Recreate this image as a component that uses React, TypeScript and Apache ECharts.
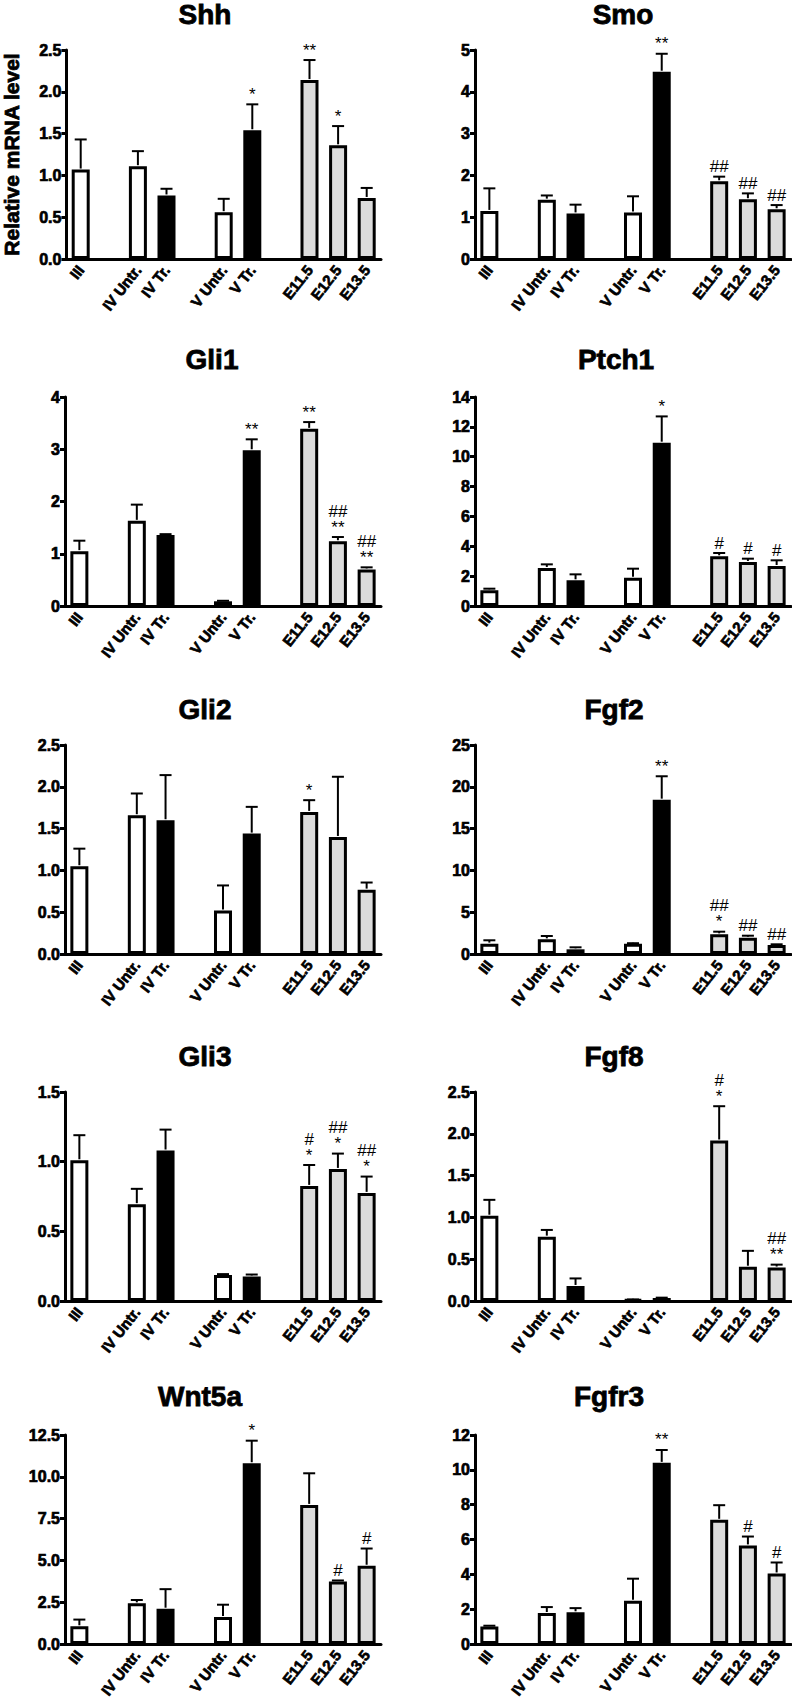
import React, { useEffect, useRef } from "react";
import * as echarts from "echarts";

const categories = ["III", "", "IV Untr.", "IV Tr.", "", "V Untr.", "V Tr.", "", "E11.5", "E12.5", "E13.5"];
const barKinds = ["white", "", "white", "black", "", "white", "black", "", "gray", "gray", "gray"];

const titles = ["Shh", "Smo", "Gli1", "Ptch1", "Gli2", "Fgf2", "Gli3", "Fgf8", "Wnt5a", "Fgfr3"];

const shhMean = [1.07, null, 1.11, 0.76, null, 0.56, 1.54, null, 2.14, 1.36, 0.73];
const shhErr = [0.36, null, 0.18, 0.08, null, 0.16, 0.31, null, 0.24, 0.23, 0.12];
const shhSig = ["", "", "", "", "", "", "*", "", "**", "*", ""];

const smoMean = [1.15, null, 1.42, 1.09, null, 1.11, 4.48, null, 1.86, 1.43, 1.19];
const smoErr = [0.54, null, 0.1, 0.21, null, 0.39, 0.43, null, 0.11, 0.14, 0.1];
const smoSig = ["", "", "", "", "", "", "**", "", "##", "##", "##"];

const gli1Mean = [1.05, null, 1.63, 1.36, null, 0.09, 2.98, null, 3.39, 1.24, 0.7];
const gli1Err = [0.2, null, 0.31, 0.015, null, 0.01, 0.21, null, 0.13, 0.08, 0.04];
const gli1Sig = ["", "", "", "", "", "", "**", "", "**", "##\n**", "##\n**"];

const ptch1Mean = [1.05, null, 2.55, 1.72, null, 1.9, 10.94, null, 3.33, 2.95, 2.68];
const ptch1Err = [0.11, null, 0.24, 0.4, null, 0.6, 1.76, null, 0.22, 0.22, 0.38];
const ptch1Sig = ["", "", "", "", "", "", "*", "", "#", "#", "#"];

const gli2Mean = [1.05, null, 1.66, 1.6, null, 0.52, 1.44, null, 1.7, 1.4, 0.77];
const gli2Err = [0.21, null, 0.26, 0.54, null, 0.3, 0.32, null, 0.14, 0.72, 0.085];
const gli2Sig = ["", "", "", "", "", "", "", "", "*", "", ""];

const fgf2Mean = [1.24, null, 1.75, 0.56, null, 1.24, 18.46, null, 2.35, 1.95, 1.08];
const fgf2Err = [0.4, null, 0.4, 0.24, null, 0.05, 2.8, null, 0.32, 0.24, 0.08];
const fgf2Sig = ["", "", "", "", "", "", "**", "", "##\n*", "##", "##"];

const gli3Mean = [1.01, null, 0.695, 1.08, null, 0.186, 0.176, null, 0.826, 0.948, 0.776];
const gli3Err = [0.18, null, 0.11, 0.15, null, 0.007, 0.014, null, 0.15, 0.11, 0.117];
const gli3Sig = ["", "", "", "", "", "", "", "", "#\n*", "##\n*", "##\n*"];

const fgf8Mean = [1.02, null, 0.77, 0.18, null, 0.016, 0.036, null, 1.92, 0.41, 0.4];
const fgf8Err = [0.19, null, 0.08, 0.09, null, 0.002, 0.004, null, 0.41, 0.19, 0.035];
const fgf8Sig = ["", "", "", "", "", "", "", "", "#\n*", "", "##\n**"];

const wnt5aMean = [1.06, null, 2.43, 2.11, null, 1.61, 10.81, null, 8.32, 3.74, 4.68];
const wnt5aErr = [0.4, null, 0.2, 1.17, null, 0.74, 1.35, null, 1.89, 0.06, 1.03];
const wnt5aSig = ["", "", "", "", "", "", "*", "", "", "#", "#"];

const fgfr3Mean = [1.01, null, 1.78, 1.82, null, 2.48, 10.4, null, 7.13, 5.66, 4.05];
const fgfr3Err = [0.04, null, 0.34, 0.24, null, 1.27, 0.74, null, 0.84, 0.51, 0.63];
const fgfr3Sig = ["", "", "", "", "", "", "**", "", "", "#", "#"];

const means = [shhMean, smoMean, gli1Mean, ptch1Mean, gli2Mean, fgf2Mean, gli3Mean, fgf8Mean, wnt5aMean, fgfr3Mean];
const errs = [shhErr, smoErr, gli1Err, ptch1Err, gli2Err, fgf2Err, gli3Err, fgf8Err, wnt5aErr, fgfr3Err];
const sigs = [shhSig, smoSig, gli1Sig, ptch1Sig, gli2Sig, fgf2Sig, gli3Sig, fgf8Sig, wnt5aSig, fgfr3Sig];

const yMax = [2.5, 5, 4, 14, 2.5, 25, 1.5, 2.5, 12.5, 12];
const yStep = [0.5, 1, 1, 2, 0.5, 5, 0.5, 0.5, 2.5, 2];
const yDecimals = [1, 0, 0, 0, 1, 0, 1, 1, 1, 0];
const yAxisName = "Relative mRNA level";

const FONT = "Liberation Sans, Arial, Helvetica, sans-serif";
const colLeft = [65, 475];
const rowTop = [50, 397, 745, 1092, 1435];
const titleX = [205, 623, 212, 616, 205, 614, 205, 614, 200, 609];
const titleY = [14, 359, 709, 1056, 1396];
const fillFor: Record<string, string> = { white: "#ffffff", black: "#000000", gray: "#dcdcdc" };

export default function App() {
  const ref = useRef<HTMLDivElement>(null);
  useEffect(() => {
    if (!ref.current) return;
    const chart = echarts.init(ref.current, undefined, { renderer: "svg" });
    const grid: any[] = [];
    const xAxis: any[] = [];
    const yAxis: any[] = [];
    const series: any[] = [];
    const graphic: any[] = [];
    for (let p = 0; p < 10; p++) {
      const col = p % 2;
      const row = Math.floor(p / 2);
      grid.push({ left: colLeft[col], top: rowTop[row], width: 316, height: 209, containLabel: false });
      xAxis.push({
        type: "category",
        gridIndex: p,
        data: categories,
        axisLine: { lineStyle: { color: "#000", width: 3 } },
        axisTick: { alignWithLabel: true, interval: 0, length: 6, lineStyle: { color: "#000", width: 3 } },
        axisLabel: {
          interval: 0,
          rotate: 52,
          margin: 8,
          color: "#000",
          fontSize: 15,
          fontWeight: "bold",
          fontFamily: FONT,
          textBorderColor: "#000",
          textBorderWidth: 0.7,
        },
        splitLine: { show: false },
      });
      const dec = yDecimals[p];
      yAxis.push({
        type: "value",
        gridIndex: p,
        min: 0,
        max: yMax[p],
        interval: yStep[p],
        name: p === 0 ? yAxisName : "",
        nameLocation: "middle",
        nameRotate: 90,
        nameGap: 44,
        nameTextStyle: {
          color: "#000",
          fontSize: 21,
          fontWeight: "bold",
          fontFamily: FONT,
          textBorderColor: "#000",
          textBorderWidth: 0.8,
        },
        axisLine: { show: true, lineStyle: { color: "#000", width: 3 } },
        axisTick: { show: true, length: 5, lineStyle: { color: "#000", width: 3 } },
        axisLabel: {
          color: "#000",
          fontSize: 16,
          fontWeight: "bold",
          fontFamily: FONT,
          margin: 5,
          textBorderColor: "#000",
          textBorderWidth: 0.7,
          formatter: (v: number) => v.toFixed(dec),
        },
        splitLine: { show: false },
      });
      const m = means[p];
      const e = errs[p];
      const s = sigs[p];
      series.push({
        type: "bar",
        xAxisIndex: p,
        yAxisIndex: p,
        barWidth: 18,
        data: m.map((v, i) =>
          v === null ? "-" : { value: v, itemStyle: { color: fillFor[barKinds[i]], borderColor: "#000", borderWidth: 3 } }
        ),
        z: 2,
      });
      const errData: any[] = [];
      const errSig: string[] = [];
      m.forEach((v, i) => {
        if (v !== null) {
          errData.push([i, v, e[i] as number]);
          errSig.push(s[i]);
        }
      });
      series.push({
        type: "custom",
        xAxisIndex: p,
        yAxisIndex: p,
        z: 3,
        data: errData,
        encode: { x: 0, y: 1 },
        renderItem: (params: any, api: any) => {
          const idx = api.value(0);
          const v = api.value(1);
          const er = api.value(2);
          const base = api.coord([idx, v]);
          const top = api.coord([idx, v + er]);
          const children: any[] = [
            { type: "line", shape: { x1: base[0], y1: base[1] - 1, x2: top[0], y2: top[1] }, style: { stroke: "#000", lineWidth: 2 } },
            { type: "line", shape: { x1: top[0] - 6, y1: top[1], x2: top[0] + 6, y2: top[1] }, style: { stroke: "#000", lineWidth: 2 } },
          ];
          const sg = errSig[params.dataIndex];
          if (sg) {
            children.push({
              type: "text",
              x: top[0],
              y: top[1] - 2,
              style: {
                text: sg,
                textAlign: "center",
                textVerticalAlign: "bottom",
                align: "center",
                verticalAlign: "bottom",
                fontSize: 17,
                fontFamily: FONT,
                lineHeight: 16,
                fill: "#000",
              },
            });
          }
          return { type: "group", children };
        },
      });
      graphic.push({
        type: "text",
        x: titleX[p],
        y: titleY[row],
        style: {
          text: titles[p],
          align: "center",
          verticalAlign: "middle",
          textAlign: "center",
          textVerticalAlign: "middle",
          fontSize: 28,
          fontWeight: "bold",
          fontFamily: FONT,
          fill: "#000",
          stroke: "#000",
          lineWidth: 0.8,
        },
      });
    }
    chart.setOption({
      animation: false,
      backgroundColor: "#ffffff",
      textStyle: { fontFamily: FONT },
      grid,
      xAxis,
      yAxis,
      series,
      graphic,
    });
    return () => chart.dispose();
  }, []);
  return <div ref={ref} style={{ position: "absolute", left: 0, top: 0, width: 792, height: 1706 }} />;
}
